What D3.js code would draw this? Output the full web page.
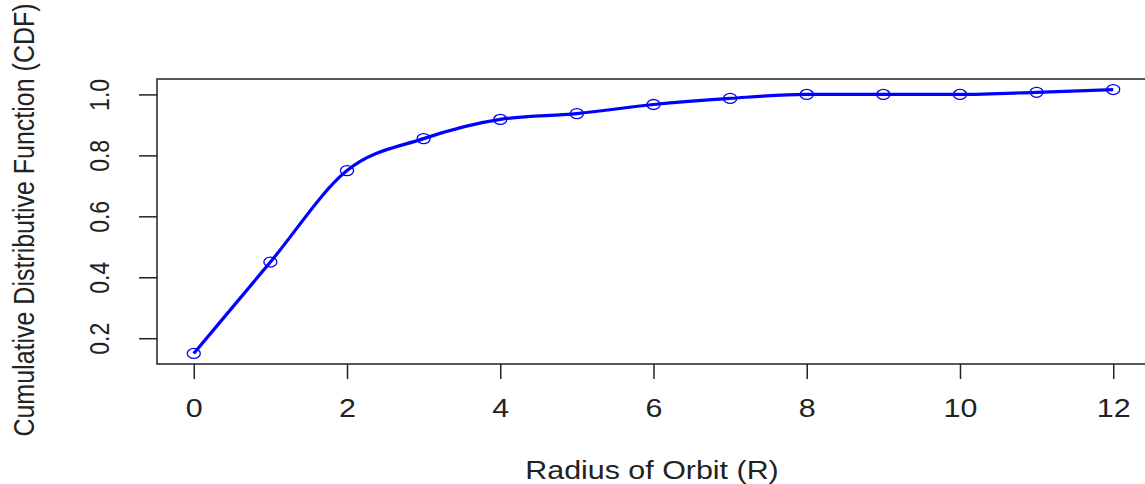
<!DOCTYPE html>
<html lang="en">
  <meta charset="utf-8" />
  <head>
    <title>CDF of orbit radius</title>
    <script src="https://cdn.jsdelivr.net/npm/d3@7"></script>
    <style>
      body { margin: 0; background: #fff; }
      text { font-family: "Liberation Sans", Arial, sans-serif; fill: #222; }
    </style>
  </head>
  <body>
  <script>
    // DATA
    var radius = [0, 1, 2, 3, 4, 5, 6, 7, 8, 9, 10, 11, 12];
    var cdf    = [0.15, 0.45, 0.75, 0.855, 0.918, 0.937, 0.967, 0.987, 1.0, 1.0, 1.0, 1.007, 1.016];
    var xTicks = [0, 2, 4, 6, 8, 10, 12];
    var yTicks = [0.2, 0.4, 0.6, 0.8, 1.0];

    // CONFIG
    var width = 1145, height = 484;
    var box = {left: 157, top: 79, right: 1150, bottom: 364};
    var stretch = 1.17; // the picture is a bit wider than tall

    var svg = d3.select("body").append("svg")
        .attr("width", width)
        .attr("height", height);

    // R style 4% padding on each side
    var x = d3.scaleLinear().domain([-0.48, 12.48]).range([box.left, box.right]);
    var y = d3.scaleLinear().domain([0.1154, 1.0506]).range([box.bottom, box.top]);

    // plot frame
    svg.append("rect")
      .attr("x", box.left).attr("y", box.top)
      .attr("width", box.right - box.left).attr("height", box.bottom - box.top)
      .attr("fill", "none").attr("stroke", "#222").attr("stroke-width", 1.5);

    // x axis
    var xAxis = svg.append("g")
      .attr("transform", `translate(0,${box.bottom})`)
      .call(d3.axisBottom(x).tickValues(xTicks).tickSize(15).tickPadding(0).tickFormat(d3.format("d")));
    xAxis.select(".domain").remove();
    xAxis.selectAll("line").attr("stroke", "#222").attr("stroke-width", 1.5);
    xAxis.selectAll("text")
      .style("font-size", "26px").attr("fill", "#222")
      .attr("y", 0).attr("dy", 0)
      .attr("transform", `translate(0,53) scale(${stretch},1)`);

    // y axis (labels parallel to axis, like R default)
    var yAxis = svg.append("g")
      .attr("transform", `translate(${box.left},0)`)
      .call(d3.axisLeft(y).tickValues(yTicks).tickSize(18).tickFormat(d3.format(".1f")));
    yAxis.select(".domain").remove();
    yAxis.selectAll("line").attr("stroke", "#222").attr("stroke-width", 1.5);
    yAxis.selectAll("text")
      .style("font-size", "23px").attr("fill", "#222")
      .attr("x", 0).attr("dy", 0)
      .attr("text-anchor", "middle")
      .attr("transform", `translate(-57,0) scale(${stretch},1) rotate(-90) translate(0,8)`);

    // axis titles
    svg.append("text")
      .attr("transform", `translate(652,479) scale(${stretch},1)`)
      .attr("text-anchor", "middle")
      .style("font-size", "26px")
      .text("Radius of Orbit (R)");

    svg.append("text")
      .attr("transform", `translate(34,220) scale(${stretch},1) rotate(-90)`)
      .attr("text-anchor", "middle")
      .style("font-size", "25px")
      .text("Cumulative Distributive Function (CDF)");

    var pts = radius.map((r, i) => [r, cdf[i]]);

    // smooth line through points
    var line = d3.line()
      .x((d) => x(d[0]))
      .y((d) => y(d[1]))
      .curve(d3.curveMonotoneX);

    svg.append("path")
      .datum(pts)
      .attr("d", line)
      .attr("fill", "none")
      .attr("stroke", "#0000ff")
      .attr("stroke-width", 3.2);

    svg.selectAll(".pt")
      .data(pts)
      .enter()
      .append("ellipse")
        .attr("class", "pt")
        .attr("cx", (d) => x(d[0]))
        .attr("cy", (d) => y(d[1]))
        .attr("rx", 6.5)
        .attr("ry", 5)
        .attr("fill", "none")
        .attr("stroke", "#0000ff")
        .attr("stroke-width", 1.3);
  </script>
  </body>
</html>
